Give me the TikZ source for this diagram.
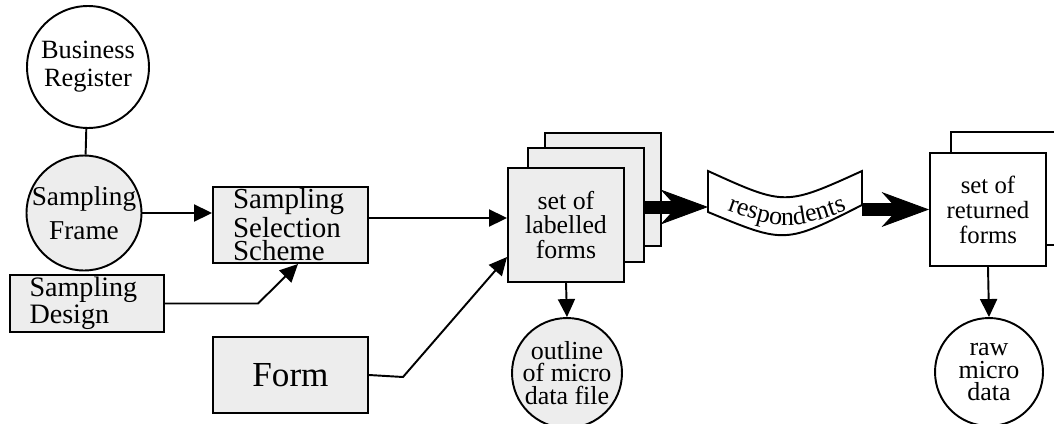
\documentclass[tikz,border=0pt]{standalone}
\usepackage{fontspec}
\setmainfont{Liberation Serif}
\usetikzlibrary{arrows.meta,decorations.text}

\begin{document}
\begin{tikzpicture}[
  x=0.02cm, y=-0.02cm,
  every node/.style={draw, line width=1.1pt, inner sep=1pt, font=\fontsize{15}{16}\selectfont},
  stipple/.style={fill=black!7},
  blob/.style={circle, align=center, inner sep=-2pt},
  box/.style={rectangle, minimum width=3.1cm, minimum height=1.52cm},
  sheet/.style={rectangle, minimum width=2.32cm, minimum height=2.27cm, align=center},
  link/.style={draw, line width=1.1pt, -{Triangle[length=0.36cm,width=0.34cm]}},
  fat/.style={draw, line width=0.26cm, -{Stealth[length=0.95cm,width=0.7cm,inset=0.32cm,line width=0.5pt]}}
]
\useasboundingbox (0,0) rectangle (1054,423);

% sampling side
\node[blob, minimum size=2.44cm] (breg) at (88,67) {Business\\Register};
\node[blob, stipple, minimum size=2.3cm, font=\fontsize{15.5}{19}\selectfont] (frame) at (84,213) {Sampling\\Frame};
\node[rectangle, stipple, minimum width=3.08cm, minimum height=1.14cm, text width=2.3cm, align=left,
  font=\fontsize{16}{15.5}\selectfont] (design) at (87,303.5) {Sampling\\Design};
\node[box, stipple, text width=2.3cm, align=left, font=\fontsize{16.5}{13.6}\selectfont] (scheme) at (290.5,225) {Sampling\\Selection\\Scheme};
\node[box, stipple, font=\fontsize{20}{22}\selectfont] (form) at (290.5,375) {Form};

% labelled forms
\node[sheet, stipple] (lab3) at (603,189.5) {};
\node[sheet, stipple] (lab2) at (586,205) {};
\node[sheet, stipple, font=\fontsize{14.7}{14.2}\selectfont] (lab) at (566,225) {set of\\labelled\\forms};
\node[blob, stipple, minimum size=2.2cm, font=\fontsize{14.8}{13}\selectfont] (outline) at (567,373) {outline\\of micro\\data file};

% respondents banner
\draw[line width=1.1pt, fill=white] (708,171) .. controls (785,206) .. (862,171) -- (862,205)
  .. controls (785,244) .. (708,212) -- cycle;
\path[font=\fontsize{14.8}{16}\selectfont, decorate, decoration={text along path, text align=center,
  text={|\fontsize{14.8}{16}\selectfont|respondents}}] (712,205) .. controls (787,232) .. (862,205);
\coordinate (bannerL) at (708,207);
\coordinate (bannerR) at (862,209.5);

% returned forms
\node[sheet, fill=white] (ret2) at (1009,188.5) {};
\node[sheet, fill=white, font=\fontsize{14.1}{14.2}\selectfont] (ret) at (988,209.5) {set of\\returned\\forms};
\node[blob, minimum size=2.16cm, font=\fontsize{14.8}{13}\selectfont] (raw) at (989,372) {raw\\micro\\data};

% connectors
\draw[line width=1.1pt] (breg) -- (frame);
\draw[link] (frame.east) -- (frame.east -| scheme.west);
\draw[link] (design.east) -- (258,303.5) -- ([xshift=0.15cm]scheme.south);
\draw[link] ([yshift=0.14cm]scheme.east) -- ([yshift=0.14cm]lab.west);
\draw[link] (form.east) -- (403,377) -- ([yshift=-0.64cm]lab.west);
\draw[link] (lab.south) -- (outline.north);
\draw[link] (ret.south) -- (raw.north);
\draw[fat] (lab2.east |- bannerL) -- (bannerL);
\draw[fat] (bannerR) -- (bannerR -| ret.west);

\end{tikzpicture}
\end{document}
